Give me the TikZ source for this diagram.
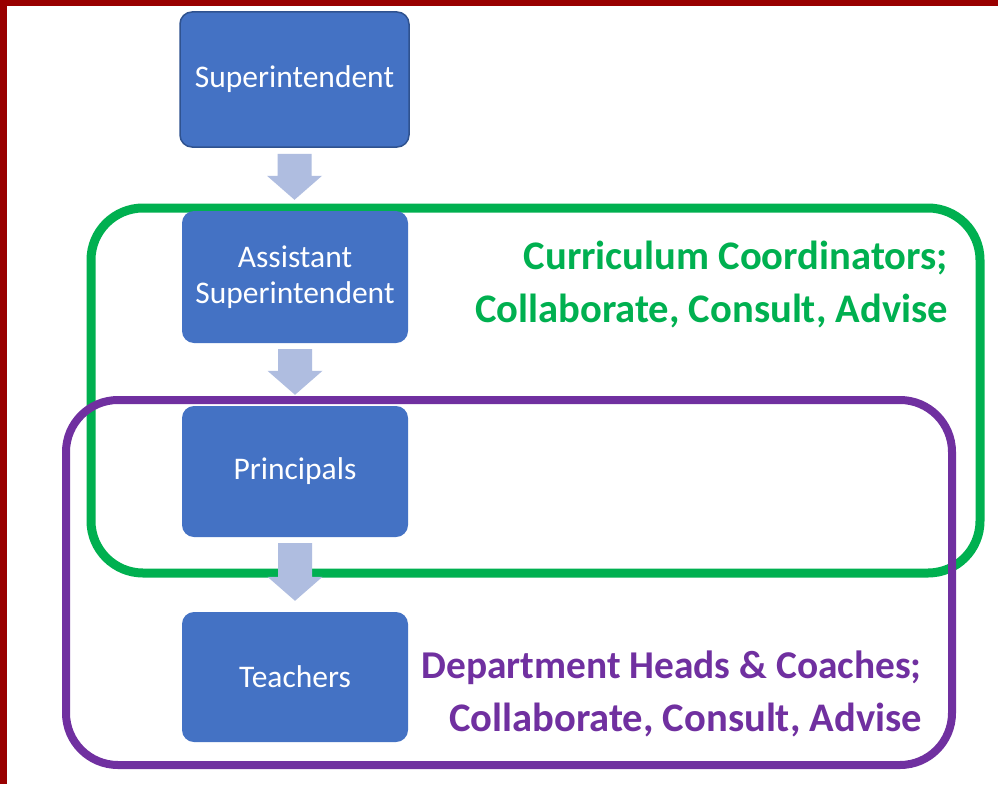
\documentclass[tikz,border=0pt]{standalone}
\usepackage{fontspec}
\setmainfont{Carlito}
\usetikzlibrary{calc}
\definecolor{boxblue}{HTML}{4472C4}
\definecolor{boxedge}{HTML}{2F528F}
\definecolor{arrowc}{HTML}{AFBDE0}
\definecolor{grn}{HTML}{00B050}
\definecolor{purp}{HTML}{7030A0}
\definecolor{frame}{HTML}{990000}
\tikzset{
  orgbox/.style={rectangle, rounded corners=12pt, fill=boxblue, text=white,
    minimum width=226pt, minimum height=131pt, align=center, inner sep=0pt,
    font=\fontsize{31.5}{36}\selectfont},
  sidetext/.style={anchor=base east, inner sep=0pt, font=\fontsize{40.6}{48}\selectfont\bfseries},
}
\newcommand\blockarrow[2]{%
  \fill[arrowc] let \p1=(#1.south), \p2=(#2.north) in
    (\x1-17pt,\y1-6pt) -- (\x1+17pt,\y1-6pt) -- (\x1+17pt,\y2+35pt) --
    (\x1+27.5pt,\y2+35pt) -- (\x1,\y2+11pt) -- (\x1-27.5pt,\y2+35pt) --
    (\x1-17pt,\y2+35pt) -- cycle;}
\begin{document}
\begin{tikzpicture}[x=1pt,y=-1pt]
\useasboundingbox (0,0) rectangle (998,784);
\fill[white] (0,0) rectangle (998,784);
\fill[frame] (0,0) rectangle (7,784);
\fill[frame] (0,0) rectangle (998,6.5);
% group frames
\draw[grn, line width=9pt, rounded corners=52pt] (91,208) rectangle (980,573);
\draw[purp, line width=8pt, rounded corners=52pt] (66,400) rectangle (952,765);
% boxes
\node[orgbox, draw=boxedge, line width=1.5pt, minimum width=229pt, minimum height=135pt] (sup) at (294.5,79.5) {Superintendent};
\node[orgbox, minimum height=132pt] (asst) at (295,277) {Assistant\\Superintendent};
\node[orgbox] (prin) at (295,471.5) {Principals};
\node[orgbox, minimum height=130pt] (teach) at (295,677) {Teachers};
% arrows
\blockarrow{sup}{asst}
\blockarrow{asst}{prin}
\blockarrow{prin}{teach}
% side texts
\node[sidetext, text=grn] (cc1) at (948,269) {Curriculum Coordinators;};
\node[sidetext, text=grn] (cc2) at (948,322) {Collaborate, Consult, Advise};
\node[sidetext, text=purp, font=\fontsize{39.4}{48}\selectfont\bfseries] (dh1) at (922,678) {Department Heads \& Coaches;};
\node[sidetext, text=purp] (dh2) at (922,731) {Collaborate, Consult, Advise};
\end{tikzpicture}
\end{document}
